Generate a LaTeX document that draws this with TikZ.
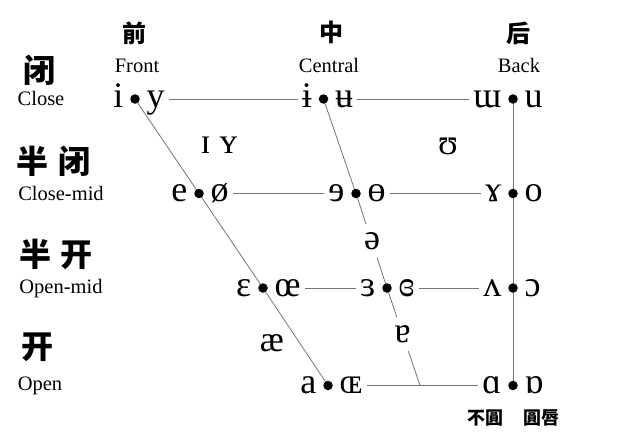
\documentclass[tikz,border=0pt]{standalone}
\usepackage{fontspec}
\setmainfont{Liberation Serif}
\newfontfamily\cjk{Noto Sans CJK SC}
\newfontfamily\cjktc{Noto Sans CJK TC}
\pgfdeclarelayer{bg}
\pgfsetlayers{bg,main}
\newcommand\vowelpair[4]{%
  \node[vdot] (#1D) at (#2) {};
  \node[ipa, anchor=east] (#1L) at ([xshift=-11.5pt]#1D.center) {#3};
  \node[ipa, anchor=west] (#1R) at ([xshift=11.5pt]#1D.center) {#4};}
\begin{document}
\begin{tikzpicture}[x=1pt,y=-1pt,
  ipa/.style={font=\fontsize{36}{38}\selectfont, inner sep=0pt, text height=16pt, text depth=0pt},
  vdot/.style={circle, fill=black, inner sep=0pt, minimum size=9.5pt},
  ln/.style={draw=black!55, line width=0.8pt},
  hl/.style={ln, shorten <=4pt, shorten >=4pt},
  lab/.style={font=\fontsize{20.5}{22}\selectfont, anchor=base, inner sep=0pt},
  cjkh/.style={font=\cjk\bfseries\fontsize{24}{26}\selectfont, inner sep=0pt},
  cjkl/.style={font=\cjk\bfseries\fontsize{32}{34}\selectfont, inner sep=0pt},
  cjks/.style={font=\cjktc\bfseries\fontsize{18}{19}\selectfont, inner sep=0pt},
  gapv/.style={ipa, fill=white, inner ysep=9pt, inner xsep=1pt}]
\useasboundingbox (0,0) rectangle (628,439);
% vowel pairs
\vowelpair{cf}{135,99}{i}{y}
\vowelpair{cc}{323.5,99}{ɨ}{ʉ}
\vowelpair{cb}{513,99}{ɯ}{u}
\vowelpair{mf}{199,193.5}{e}{ø}
\vowelpair{mc}{356,193.5}{ɘ}{ɵ}
\vowelpair{mb}{513,193.5}{ɤ}{o}
\vowelpair{of}{263,288}{ɛ}{œ}
\vowelpair{oc}{387,288}{ɜ}{ɞ}
\vowelpair{ob}{513,288}{ʌ}{ɔ}
\vowelpair{af}{328,385.5}{a}{ɶ}
\vowelpair{ab}{513,385.5}{ɑ}{ɒ}
\coordinate (cj) at (420,385.5);
% other vowels
\node[ipa] (IY) at (219,145) {ɪ ʏ};
\node[ipa] (U) at (448,146) {ʊ};
\node[gapv] (schwa) at (372,241) {ə};
\node[ipa] (ae) at (272,343) {æ};
\node[gapv] (turna) at (402.5,334) {ɐ};
% lines
\begin{pgfonlayer}{bg}
\draw[hl] (cfR.east) -- (ccL.west);
\draw[hl] (ccR.east) -- (cbL.west);
\draw[hl] (mfR.east) -- (mcL.west);
\draw[hl] (mcR.east) -- (mbL.west);
\draw[hl] (ofR.east) -- (ocL.west);
\draw[hl] (ocR.east) -- (obL.west);
\draw[hl] (afR.east) -- (abL.west);
\draw[ln] (cfD.center) -- (mfD.center) -- (ofD.center) -- (afD.center);
\draw[ln] (ccD.center) -- (mcD.center) -- (ocD.center) -- (cj);
\draw[ln] (cbD.center) -- (abD.center);
\end{pgfonlayer}
% headers
\node[cjkh] (hF) at (134,33) {前};
\node[cjkh] (hC) at (331,32) {中};
\node[cjkh] (hB) at (518,33) {后};
\node[lab] (tF) at (137,72) {Front};
\node[lab] (tC) at (329,72) {Central};
\node[lab] (tB) at (519,72) {Back};
% row labels
\node[cjkl] (lC) at (39,70) {闭};
\node[lab] (tCl) at (41,105) {Close};
\node[cjkl] (lCM) at (53.5,161) {半\hspace{10pt}闭};
\node[lab] (tCM) at (61,200) {Close-mid};
\node[cjkl] (lOM) at (56,254) {半\hspace{10pt}开};
\node[lab] (tOM) at (61,293) {Open-mid};
\node[cjkl] (lO) at (37,347) {开};
\node[lab] (tO) at (40,390) {Open};
% rounding labels
\node[cjks] (unr) at (485,418) {不圓};
\node[cjks] (rnd) at (541,418) {圓唇};
\end{tikzpicture}
\end{document}
